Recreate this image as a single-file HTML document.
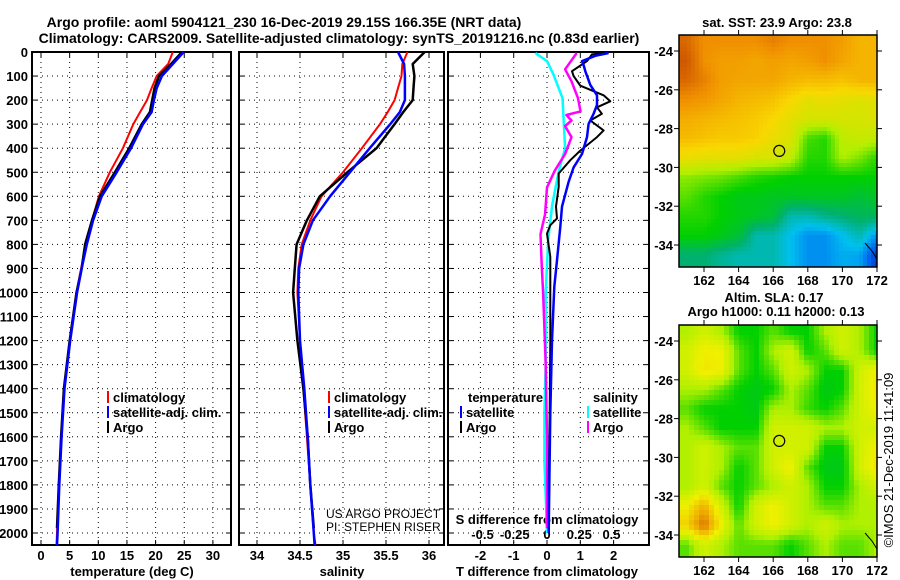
<!DOCTYPE html>
<html><head><meta charset="utf-8">
<style>
html,body{margin:0;padding:0;background:#fff;}
svg{display:block;font-family:"Liberation Sans",sans-serif;font-weight:bold;}
</style></head>
<body>
<svg id="c" width="900" height="580" viewBox="0 0 900 580">
<text x="284" y="27" font-size="14" text-anchor="middle">Argo profile: aoml 5904121_230 16-Dec-2019 29.15S 166.35E (NRT data)</text>
<text x="339" y="43" font-size="14" text-anchor="middle">Climatology: CARS2009. Satellite-adjusted climatology: synTS_20191216.nc (0.83d earlier)</text>
<g id="g"></g>
</svg>
<script>
// ---------- data ----------
const depths = [0,50,100,150,200,250,300,400,500,600,700,800,900,1000,1200,1400,1600,1800,2000,2050];
const tempClim = [23.0,22.2,20.2,19.3,18.5,17.3,16.1,14.3,12.0,10.1,8.9,7.8,7.0,6.2,5.0,4.0,3.5,3.1,2.8,2.7];
const tempSat  = [24.9,23.0,21.1,20.2,19.7,19.3,17.8,15.7,13.2,10.6,9.1,8.0,7.1,6.3,5.1,4.1,3.6,3.2,2.9,2.8];
const argoDepths = [0,50,100,150,200,250,300,400,500,600,700,800,900,1000,1200,1400,1600,1800,1980];
const tempArgo = [24.6,22.7,20.6,19.8,19.4,19.0,17.6,15.4,12.9,10.3,8.9,7.7,7.1,6.2,5.0,4.0,3.5,3.1,2.8];
const salClim = [35.75,35.69,35.68,35.64,35.6,35.52,35.43,35.22,35.0,34.75,34.62,34.52,34.48,34.47,34.5,34.54,34.58,34.62,34.66,34.68];
const salSat  = [35.64,35.71,35.72,35.72,35.72,35.66,35.55,35.31,35.08,34.85,34.65,34.54,34.49,34.48,34.5,34.55,34.59,34.62,34.66,34.67];
const salArgo = [35.95,35.81,35.83,35.82,35.81,35.7,35.6,35.39,35.05,34.73,34.58,34.46,34.44,34.42,34.47,34.54,34.59,34.62,34.66];
const dTArgoDepths = [4,10,38,80,100,140,180,205,230,257,285,326,354,410,450,505,560,643,692,720,755,852,976,1200,1500,1800,1980];
const dTArgo = [1.8,1.35,1.2,0.75,0.8,1.0,1.7,1.9,1.5,1.65,1.3,1.7,1.5,1.0,0.7,0.35,0.35,0.27,0.3,0.1,0,0.1,0.1,0.1,0.08,0.05,0.05];
const dTSatDepths = [4,16,38,54,80,137,180,220,257,299,354,424,480,540,643,727,866,976,1200,1500,1800,2000];
const dTSat = [1.85,1.45,1.05,1.1,1.15,1.3,1.5,1.5,1.4,1.25,1.2,1.05,0.8,0.65,0.45,0.4,0.3,0.22,0.15,0.1,0.07,0.05];
const dSArgoDepths = [4,72,122,192,247,262,285,308,354,424,494,563,674,757,895,1000,1300,1600,1980];
const dSArgo = [0.23,0.14,0.19,0.24,0.26,0.15,0.19,0.14,0.19,0.14,0.06,0,-0.015,-0.05,-0.04,-0.03,-0.01,0.0,0.0];
const dSSatDepths = [4,38,94,192,400,498,636,775,1000,1300,1500,1700,2000];
const dSSat = [-0.09,0,0.05,0.12,0.14,0.09,0.04,0.01,-0.01,-0.01,-0.02,-0.02,0];
const depthTicks = [0,100,200,300,400,500,600,700,800,900,1000,1100,1200,1300,1400,1500,1600,1700,1800,1900,2000];
const tempTicks = [0,5,10,15,20,25,30];
const salTicks = [34,34.5,35,35.5,36];
const dTTicks = [-2,-1,0,1,2];
const dSTicks = [-0.5,-0.25,0,0.25,0.5];
const dSTickLabels = ["-0.5","-0.25","0","0.25","0.5"];
// SST map levels (0 = warm dark orange ... 8 = cold dark blue), rows -23.5..-34.5, cols 161..172
const sstGrid = [
[0.5,1,1,1,1,0.8,1,1,1,1.2,1.5,1.5],
[0.3,1,1.2,1.2,1.3,1.2,1.3,1.2,1,1.3,1.5,1.5],
[0.5,0.8,1.2,1.3,1.3,1.3,1.5,1.6,1.6,1.7,1.5,1.5],
[1,1.1,1.3,1.5,1.6,1.7,2,2.3,2.2,2.3,2.4,2.3],
[1.4,1.5,1.6,1.7,1.8,2,2.3,2.5,2.5,2.5,2.5,2.4],
[1.6,1.7,1.8,1.8,1.9,2.2,2.4,3.6,3.8,2.8,2.7,2.8],
[2.2,2.3,2.3,2.3,2.5,2.5,2.8,3.8,3.8,3,3.3,3.8],
[3.2,3.3,3.4,3.6,3.8,3.9,4,4,4,4,4,4],
[3.5,3.8,4,4.2,4.2,4.3,4.3,4.3,4.3,4.3,4.5,4.3],
[3.8,3.8,4,4.2,4.3,4.5,5.5,5.5,5.2,5,4.8,4.8],
[4,4,4.2,4.5,5.5,5.5,6,6.5,6.5,6,5.5,6.5],
[5,5,5.3,5.5,5.5,5.5,6,6.5,6.5,6.2,6.3,7.5]];
// SLA map levels (0 = teal green ... 5 = dark orange)
const slaGrid = [
[2,2.5,2,1,1,1.5,1,1,2,2.5,2,1],
[2.5,3,3,1.5,1,2,2.5,1,1.5,2.5,2,1],
[2.5,3.2,3,1.5,1,1.5,2.5,2,1,1,2.5,3],
[2,2,1.5,1,0.8,1,2,1.5,0.8,1,2.5,3.2],
[1.5,1,1,1,0.8,2,2,1.3,1,1.5,2.5,3],
[2,1.5,1,1,1,2.5,2.5,2.5,2,2,2.5,2.5],
[2,2.5,2,1.5,1.5,2.5,2.5,2.5,1,1,2.5,3],
[2,2.5,2,1,1.5,2.5,3,1.5,0.8,0.8,2.5,3.2],
[2,2.5,1.5,1,1.5,2,2.5,2,1,1,2,2.5],
[3,4,2.5,1,2.5,3,2.5,2,1.5,1.5,2,2],
[3.5,4.8,3,1.5,2.5,3,2.5,2,2.5,2,2,2],
[1.5,2.5,2,1.5,1.5,1.5,1,1.5,2,1.5,1.5,2]];
const lonTicks = [162,164,166,168,170,172];
const latTicks = [-24,-26,-28,-30,-32,-34];
const argoLon = 166.35, argoLat = -29.15;

// ---------- helpers ----------
const NS="http://www.w3.org/2000/svg";
const G=document.getElementById('g');
function mk(tag,attrs,parent){const e=document.createElementNS(NS,tag);for(const k in attrs)e.setAttribute(k,attrs[k]);(parent||G).appendChild(e);return e;}
function txt(x,y,s,size,anchor,parent){const t=mk('text',{x:x,y:y,'font-size':size,'text-anchor':anchor||'middle'},parent);t.textContent=s;return t;}

const TOP=52,BOT=545;
const yD=d=>TOP+d*0.2405;
const xT=v=>41+v*5.73;
const xS=v=>257+(v-34)*86;
const xDT=v=>547+v*33.3;
const xDS=v=>547+v*129;
const panels=[[32,231],[239,444],[448,649]];

// grids
panels.forEach((p,i)=>{
  const gg=mk('g',{});
  
  
  depthTicks.forEach(d=>{ if(d>0){const l=mk('line',{x1:p[0],x2:p[1],y1:yD(d),y2:yD(d),stroke:'#000','stroke-width':1,'stroke-dasharray':'1,4'},gg);
    
    mk('line',{x1:p[0],x2:p[0]+5,y1:yD(d),y2:yD(d),stroke:'#000'},gg);mk('line',{x1:p[1]-5,x2:p[1],y1:yD(d),y2:yD(d),stroke:'#000'},gg);}});
  const xs = i==0?tempTicks.map(xT):i==1?salTicks.map(xS):dTTicks.map(xDT);
  xs.forEach(x=>{const l=mk('line',{x1:x,x2:x,y1:TOP,y2:BOT,stroke:'#000','stroke-dasharray':'1,4'},gg);
    
    mk('line',{x1:x,x2:x,y1:BOT-5,y2:BOT,stroke:'#000'},gg);mk('line',{x1:x,x2:x,y1:TOP,y2:TOP+5,stroke:'#000'},gg);});
  const r=mk('rect',{x:p[0],y:TOP,width:p[1]-p[0],height:BOT-TOP,fill:'none',stroke:'#000','stroke-width':2},gg);
  
});
// y tick labels
depthTicks.forEach(d=>{const t=txt(28,yD(d)+5,String(d),13,'end');
  });
// x tick labels
tempTicks.forEach(v=>{const t=txt(xT(v),560,String(v),13);});
salTicks.forEach(v=>{const t=txt(xS(v),560,String(v),13);});
dTTicks.forEach(v=>{const t=txt(xDT(v),560,String(v),13);});
dSTicks.forEach((v,i)=>{const t=txt(xDS(v),539,dSTickLabels[i],13);});
let t;
t=txt(132,576,'temperature (deg C)',13);
t=txt(342,576,'salinity',13);
t=txt(547,576,'T difference from climatology',13);
t=txt(547,524,'S difference from climatology',13);
t=mk('text',{x:326,y:518,'font-size':12,'font-weight':'normal','text-anchor':'start'});t.textContent='US ARGO PROJECT';

t=mk('text',{x:326,y:531,'font-size':12,'font-weight':'normal','text-anchor':'start'});t.textContent='PI: STEPHEN RISER';


// series lines
function line(ds,vs,fx,color,w,name){
  const pts=ds.map((d,i)=>fx(vs[i]).toFixed(1)+','+yD(d).toFixed(1)).join(' ');
  const p=mk('polyline',{points:pts,fill:'none',stroke:color,'stroke-width':w,'stroke-linejoin':'round'});
  
  
}
line(depths,tempClim,xT,'#f00',2,'temp-climatology-line');
line(argoDepths,tempArgo,xT,'#000',2.5,'temp-argo-line');
line(depths,tempSat,xT,'#00f',2.5,'temp-satellite-line');
line(depths,salClim,xS,'#f00',2,'sal-climatology-line');
line(argoDepths,salArgo,xS,'#000',2.5,'sal-argo-line');
line(depths,salSat,xS,'#00f',2.5,'sal-satellite-line');
line(dSSatDepths,dSSat,xDS,'#0ff',2.5,'sdiff-satellite-line');
line(dSArgoDepths,dSArgo,xDS,'#f0f',2.5,'sdiff-argo-line');
line(dTArgoDepths,dTArgo,xDT,'#000',2,'tdiff-argo-line');
line(dTSatDepths,dTSat,xDT,'#00f',2.5,'tdiff-satellite-line');

// legends
function leg(x,y,color,label,name){
  const g=mk('g',{});
  mk('line',{x1:x,x2:x,y1:y-11,y2:y+1,stroke:color,'stroke-width':2},g);
  txt(x+5,y,label,13,'start',g);
}
leg(108,402,'#f00','climatology','legend-temp-climatology');
leg(108,417,'#00f','satellite-adj. clim.','legend-temp-satellite');
leg(108,432,'#000','Argo','legend-temp-argo');
leg(329,402,'#f00','climatology','legend-sal-climatology');
leg(329,417,'#00f','satellite-adj. clim.','legend-sal-satellite');
leg(329,432,'#000','Argo','legend-sal-argo');
t=txt(468,402,'temperature',13,'start');
t=txt(593,402,'salinity',13,'start');
leg(461,417,'#00f','satellite','legend-tdiff-satellite');
leg(461,432,'#000','Argo','legend-tdiff-argo');
leg(588,417,'#0ff','satellite','legend-sdiff-satellite');
leg(588,432,'#f0f','Argo','legend-sdiff-argo');

// ---------- maps ----------
const sstStops=[[192,64,0],[240,144,0],[248,216,0],[176,240,0],[0,208,0],[0,176,112],[0,192,240],[0,96,240],[0,16,160]];
const slaStops=[[0,176,112],[0,208,0],[176,240,0],[240,240,0],[240,176,0],[208,96,0]];
function col(stops,v){v=Math.max(0,Math.min(stops.length-1,v));const i=Math.min(stops.length-2,Math.floor(v));const f=v-i;
  const a=stops[i],b=stops[i+1];return 'rgb('+a.map((c,k)=>Math.round(c+(b[k]-c)*f)).join(',')+')';}
const MX0=679,MX1=877;
const lonX=lon=>704+(lon-162)*17.3;
function bil(grid,r,c){const R=grid.length-1,C=grid[0].length-1;r=Math.max(0,Math.min(R,r));c=Math.max(0,Math.min(C,c));
  const r0=Math.min(R-1,Math.floor(r)),c0=Math.min(C-1,Math.floor(c));const fr=r-r0,fc=c-c0;
  return grid[r0][c0]*(1-fr)*(1-fc)+grid[r0][c0+1]*(1-fr)*fc+grid[r0+1][c0]*fr*(1-fc)+grid[r0+1][c0+1]*fr*fc;}
function drawMap(grid,stops,top,bot,latY,name,smooth){
  const g=mk('g',{});
  const step=smooth?5:4;
  for(let y=top;y<bot;y+=step){for(let x=MX0;x<MX1;x+=step){
    const lat=-24+((y+step/2)-latY(-24))/(latY(-34)-latY(-24))*-10*-1*-1;
    const latv=-24-((y+step/2)-latY(-24))/((latY(-34)-latY(-24))/10);
    const lon=162+((x+step/2)-704)/17.3;
    const r=(-23.5-latv), c=(lon-161);
    const v=bil(grid,r,c);
    mk('rect',{x:x,y:y,width:Math.min(step,MX1-x)+0.5,height:Math.min(step,bot-y)+0.5,fill:col(stops,v)},g);
  }}
  mk('rect',{x:MX0,y:top,width:MX1-MX0,height:bot-top,fill:'none',stroke:'#000','stroke-width':1.5},g);
  latTicks.forEach(l=>{const yy=latY(l);mk('line',{x1:MX0-5,x2:MX0,y1:yy,y2:yy,stroke:'#000'},g);mk('line',{x1:MX1,x2:MX1+5,y1:yy,y2:yy,stroke:'#000'},g);
    const tt=txt(673,yy+5,String(l),13,'end',g);});
  lonTicks.forEach(l=>{const xx=lonX(l);mk('line',{x1:xx,x2:xx,y1:bot,y2:bot+5,stroke:'#000'},g);mk('line',{x1:xx,x2:xx,y1:top-5,y2:top,stroke:'#000'},g);
    const tt=txt(xx,bot+18,String(l),13,'middle',g);});
  const c=mk('circle',{cx:lonX(argoLon),cy:latY(argoLat),r:5.5,fill:'none',stroke:'#000','stroke-width':1.2},g);
  
  mk('polyline',{points:(MX1-12)+','+(bot-24)+' '+(MX1-5)+','+(bot-16)+' '+MX1+','+(bot-8),fill:'none',stroke:'#000'},g);
}
drawMap(sstGrid,sstStops,35,267,l=>51+(-24-l)*19.4,'sst-map',false);
drawMap(slaGrid,slaStops,325,557,l=>341+(-24-l)*19.4,'sla-map',true);
t=txt(777,27,'sat. SST: 23.9 Argo: 23.8',13);
t=txt(774,302,'Altim. SLA: 0.17',13);
t=txt(776,316,'Argo h1000: 0.11 h2000: 0.13',13);
t=mk('text',{x:0,y:0,'font-size':13,'font-weight':'normal','text-anchor':'middle',transform:'translate(893,460) rotate(-90)'});
t.textContent='©IMOS 21-Dec-2019 11:41:09';

</script>
</body></html>
